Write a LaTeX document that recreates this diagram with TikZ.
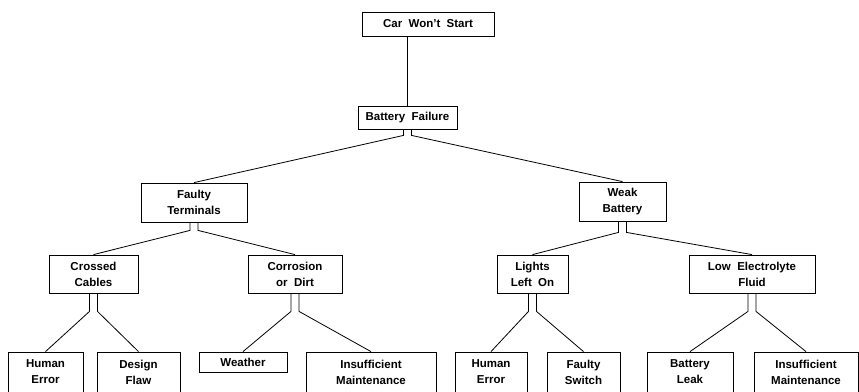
\documentclass[tikz,border=0pt]{standalone}
\usepackage{fontspec}
\setmainfont{Liberation Sans}[WordSpace=2]
\usetikzlibrary{positioning}

\begin{document}
\begin{tikzpicture}[x=1pt, y=-1pt,
  box/.style={draw, line width=0.8pt, inner sep=0pt, align=center,
    font=\bfseries\fontsize{11.5}{16}\selectfont},
  link/.style={line width=0.8pt}]
\useasboundingbox (0,0) rectangle (859,391);
\clip (0,0) rectangle (859,391);
% top event
\node[box, minimum width=132, minimum height=24] (car) at (428,24) {Car Won't Start};
\node[box, minimum width=99, minimum height=23] (bat) at (407.5,117.5) {Battery Failure};
% second level
\node[box, minimum width=106, minimum height=39] (ft) at (194,202.5) {Faulty\\Terminals};
\node[box, minimum width=87, minimum height=39] (wb) at (622.5,201.5) {Weak\\Battery};
% third level
\node[box, minimum width=89, minimum height=38] (cc) at (93.5,274) {Crossed\\Cables};
\node[box, minimum width=94, minimum height=38] (cd) at (295,274) {Corrosion\\or Dirt};
\node[box, minimum width=71, minimum height=38] (lo) at (532.5,274) {Lights\\Left On};
\node[box, minimum width=126, minimum height=38] (le) at (752,274) {Low Electrolyte\\Fluid};
% basic events (cut off at the bottom)
\node[box, minimum width=75, minimum height=40] (he1) at (45.5,372) {Human\\Error};
\node[box, minimum width=83, minimum height=40] (df) at (138.5,372) {Design\\Flaw};
\node[box, minimum width=88, minimum height=20] (we) at (243,362) {Weather};
\node[box, minimum width=130, minimum height=40] (im1) at (371,372) {Insufficient\\Maintenance};
\node[box, minimum width=72, minimum height=40] (he2) at (491,372) {Human\\Error};
\node[box, minimum width=73, minimum height=40] (fs) at (583.5,372) {Faulty\\Switch};
\node[box, minimum width=86, minimum height=40] (bl) at (690,372) {Battery\\Leak};
\node[box, minimum width=104, minimum height=40] (im2) at (806,372) {Insufficient\\Maintenance};

\draw[link] (bat.north) -- (bat.north |- car.south);
\draw[link] ([xshift=-4pt]bat.south) -- ++(0,6) -- (ft.north);
\draw[link] ([xshift=4pt]bat.south) -- ++(0,6) -- (wb.north);
\draw[link] ([xshift=-4pt]ft.south) -- ++(0,8) -- (cc.north);
\draw[link] ([xshift=4pt]ft.south) -- ++(0,8) -- (cd.north);
\draw[link] ([xshift=-4pt]wb.south) -- ++(0,11) -- (lo.north);
\draw[link] ([xshift=4pt]wb.south) -- ++(0,11) -- (le.north);
\draw[link] ([xshift=-4pt]cc.south) -- ++(0,18) -- (he1.north);
\draw[link] ([xshift=4pt]cc.south) -- ++(0,18) -- (df.north);
\draw[link] ([xshift=-4pt]cd.south) -- ++(0,18) -- (we.north);
\draw[link] ([xshift=4pt]cd.south) -- ++(0,18) -- (im1.north);
\draw[link] ([xshift=-4pt]lo.south) -- ++(0,18) -- (he2.north);
\draw[link] ([xshift=4pt]lo.south) -- ++(0,18) -- (fs.north);
\draw[link] ([xshift=-4pt]le.south) -- ++(0,18) -- (bl.north);
\draw[link] ([xshift=4pt]le.south) -- ++(0,18) -- (im2.north);
\end{tikzpicture}
\end{document}
